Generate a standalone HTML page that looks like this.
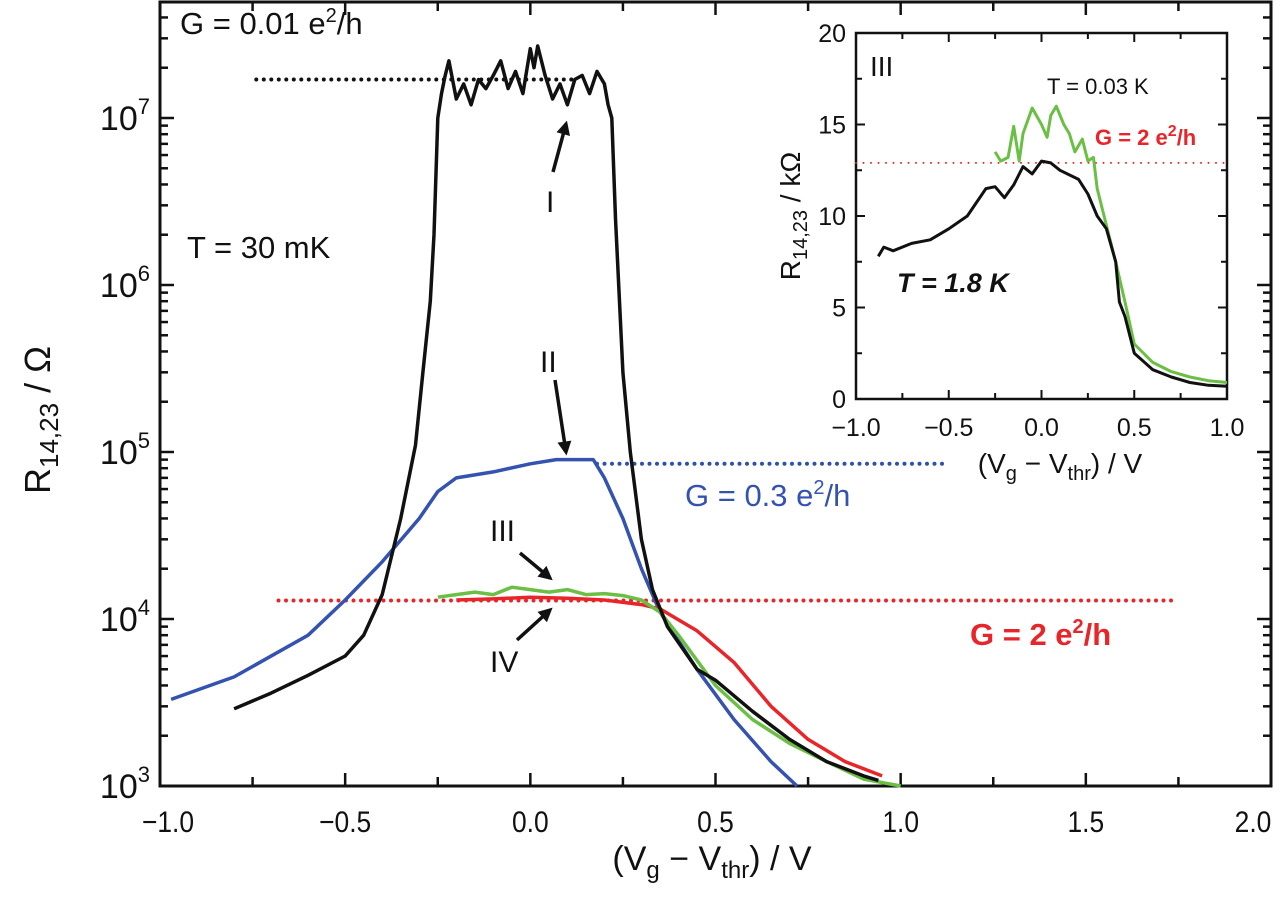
<!DOCTYPE html>
<html><head><meta charset="utf-8"><style>
body{margin:0;background:#fff;width:1280px;height:916px;overflow:hidden}
svg{display:block}
text{font-family:"Liberation Sans",sans-serif}
</style></head><body>
<svg id="chart" width="1280" height="916" viewBox="0 0 1280 916" xmlns="http://www.w3.org/2000/svg"></svg>
<script>
// ---- main chart data (x in V, y in Ohm) ----
const blackX=[-0.8,-0.7,-0.6,-0.5,-0.45,-0.4,-0.35,-0.31,-0.29,-0.27,-0.26,-0.25,-0.24,-0.23,-0.22,-0.2,-0.18,-0.16,-0.14,-0.12,-0.1,-0.08,-0.06,-0.04,-0.02,0,0.01,0.02,0.04,0.06,0.08,0.1,0.12,0.14,0.16,0.18,0.2,0.21,0.22,0.23,0.25,0.27,0.3,0.33,0.37,0.45,0.5,0.6,0.7,0.8,0.9,0.94];
const blackY=[2.9e3,3.6e3,4.6e3,6e3,8e3,1.4e4,4e4,1.1e5,3e5,8e5,2e6,1e7,1.4e7,1.8e7,2.2e7,1.3e7,1.6e7,1.2e7,1.7e7,1.5e7,1.8e7,2.2e7,1.5e7,1.9e7,1.4e7,2.6e7,2.0e7,2.7e7,1.8e7,1.3e7,1.6e7,1.2e7,1.7e7,1.8e7,1.4e7,1.9e7,1.6e7,1.2e7,1.0e7,2.5e6,3e5,1e5,3e4,1.5e4,9e3,5e3,4.3e3,2.8e3,1.9e3,1.4e3,1.15e3,1.08e3];
const blueX=[-0.97,-0.8,-0.6,-0.5,-0.4,-0.3,-0.25,-0.2,-0.1,0,0.07,0.17,0.2,0.25,0.3,0.35,0.45,0.55,0.65,0.72];
const blueY=[3.3e3,4.5e3,8e3,1.3e4,2.2e4,4e4,5.8e4,7e4,7.6e4,8.5e4,9e4,9e4,7e4,4e4,2e4,1.1e4,5e3,2.5e3,1.4e3,1e3];
const greenX=[-0.25,-0.2,-0.15,-0.1,-0.05,0,0.05,0.1,0.15,0.2,0.25,0.3,0.35,0.4,0.5,0.6,0.7,0.8,0.9,1.0];
const greenY=[1.35e4,1.4e4,1.45e4,1.4e4,1.55e4,1.5e4,1.45e4,1.5e4,1.4e4,1.42e4,1.38e4,1.3e4,1.1e4,8e3,4e3,2.5e3,1.8e3,1.4e3,1.1e3,1e3];
const redX=[-0.2,-0.1,0,0.1,0.2,0.3,0.35,0.45,0.55,0.65,0.75,0.85,0.95];
const redY=[1.3e4,1.32e4,1.35e4,1.33e4,1.3e4,1.22e4,1.15e4,8.5e3,5.5e3,3e3,1.9e3,1.4e3,1.15e3];
const xTicks=[-1.0,-0.5,0.0,0.5,1.0,1.5,2.0];
const yDecades=[3,4,5,6,7];
// ---- inset data (x in V, y in kOhm) ----
const inBlackX=[-0.88,-0.85,-0.8,-0.7,-0.6,-0.5,-0.4,-0.3,-0.25,-0.2,-0.15,-0.1,-0.05,0,0.05,0.1,0.2,0.25,0.3,0.35,0.4,0.42,0.45,0.5,0.6,0.7,0.8,0.9,1.0];
const inBlackY=[7.8,8.3,8.1,8.5,8.7,9.3,10.0,11.5,11.6,11.0,11.7,12.7,12.3,13.0,12.9,12.5,12.0,11.2,10.0,9.3,7.5,5.3,4.5,2.5,1.6,1.2,0.9,0.75,0.7];
const inGreenX=[-0.25,-0.22,-0.18,-0.15,-0.12,-0.1,-0.05,0,0.03,0.05,0.08,0.12,0.15,0.18,0.22,0.25,0.28,0.3,0.35,0.4,0.45,0.5,0.6,0.7,0.8,0.9,1.0];
const inGreenY=[13.5,13.0,13.2,14.9,13.0,14.5,15.9,15.0,14.3,15.5,16.0,15.0,14.5,13.5,14.2,13.0,13.2,11.5,9.5,7.5,5.3,3.0,2.0,1.5,1.2,1.0,0.9];
const inXTicks=[-1.0,-0.5,0.0,0.5,1.0];
const inYTicks=[0,5,10,15,20];

const svg=document.getElementById('chart');
const NS='http://www.w3.org/2000/svg';
function mk(tag,attrs,parent){const e=document.createElementNS(NS,tag);for(const k in attrs)e.setAttribute(k,attrs[k]);(parent||svg).appendChild(e);return e;}
const L=160,R=1271,T=2,B=786;
const sx=v=>L+(v+1)*(R-L)/3;
const sy=v=>B-(Math.log10(v)-3)*167;
const iL=856,iR=1227,iT=33,iB=399;
const ix=v=>iL+(v+1)*(iR-iL)/2;
const iy=v=>iB-v*(iB-iT)/20;
function fmt(v){return (v<0?'\u2212':'')+Math.abs(v).toFixed(1);}

let fr=mk('rect',{x:L,y:T,width:R-L,height:B-T,fill:'none',stroke:'#111','stroke-width':3});


for(let v=-1;v<=2.001;v+=0.25){const major=Math.abs(v*2-Math.round(v*2))<1e-6;const len=major?13:9;
 let t=mk('line',{x1:sx(v),x2:sx(v),y1:B,y2:B-len,stroke:'#111','stroke-width':2.5});
 
 let t2=mk('line',{x1:sx(v),x2:sx(v),y1:T,y2:T+len,stroke:'#111','stroke-width':2.5});
 }
xTicks.forEach(v=>{let px=sx(v);if(v<=-1)px+=8;if(v>=2)px-=18;
 let t=mk('text',{x:0,y:0,'font-size':30,'text-anchor':'middle',fill:'#111',transform:'translate('+px+',832) scale(0.88,1)'});t.textContent=fmt(v);
 });
for(let d=3;d<=7;d++){for(let m=1;m<=9;m++){const v=m*Math.pow(10,d);const y=sy(v);if(y<T)continue;const len=m===1?14:8;
 let t=mk('line',{x1:L,x2:L+len,y1:y,y2:y,stroke:'#111','stroke-width':2.5});
 let t2=mk('line',{x1:R,x2:R-len,y1:y,y2:y,stroke:'#111','stroke-width':2.5});}}
yDecades.forEach(d=>{let t=mk('text',{x:150,y:sy(Math.pow(10,d))+12,'font-size':34,'text-anchor':'end',fill:'#111'});
 t.innerHTML='10<tspan dy="-16" font-size="22">'+d+'</tspan>';
 });
let xt=mk('text',{x:712,y:870,'font-size':34,'text-anchor':'middle',fill:'#111'});
xt.innerHTML='(V<tspan dy="8" font-size="24">g</tspan><tspan dy="-8"> \u2212 V</tspan><tspan dy="8" font-size="24">thr</tspan><tspan dy="-8">) / V</tspan>';

let yt=mk('text',{x:0,y:0,'font-size':36,'text-anchor':'middle',fill:'#111',transform:'translate(50,420) rotate(-90)'});
yt.innerHTML='R<tspan dy="8" font-size="26">14,23</tspan><tspan dy="-8"> / \u03A9</tspan>';


function line(xs,ys,fx,fy,color,w,name){const d=xs.map((x,i)=>(i?'L':'M')+fx(x).toFixed(1)+','+fy(ys[i]).toFixed(1)).join('');
 let p=mk('path',{d:d,fill:'none',stroke:color,'stroke-width':w,'stroke-linejoin':'round'});
 return p;}
function dotted(x1,x2,y,color,w,name){let p=mk('line',{x1:x1,x2:x2,y1:y,y2:y,stroke:color,'stroke-width':w,'stroke-dasharray':'0 7.5','stroke-linecap':'round'});
 }

dotted(sx(-0.74),sx(0.12),sy(1.7e7),'#111',4,'g-001-reference-line');
dotted(sx(0.18),sx(1.12),sy(8.5e4),'#2f4fb0',4,'g-03-reference-line');
dotted(sx(-0.68),sx(1.75),sy(1.29e4),'#e8262a',4,'g-2-reference-line');
line(blueX,blueY,sx,sy,'#3452b0',3.5,'blue-series');
line(redX,redY,sx,sy,'#e8262a',3.5,'red-series');
line(greenX,greenY,sx,sy,'#6cbf45',3.5,'green-series');
line(blackX,blackY,sx,sy,'#111',3.5,'black-series');

function txt(x,y,s,size,opts,name){let t=mk('text',Object.assign({x:x,y:y,'font-size':size,fill:'#111'},opts||{}));t.innerHTML=s;
 return t;}
txt(180,34,'G = 0.01 e<tspan dy="-12" font-size="20">2</tspan><tspan dy="12">/h</tspan>',31,{},'g-001-label');
txt(187,258,'T = 30 mK',31,{},'temperature-label');
txt(685,506,'G = 0.3 e<tspan dy="-12" font-size="20">2</tspan><tspan dy="12">/h</tspan>',31,{fill:'#3452b0'},'g-03-label');
txt(970,645,'G = 2 e<tspan dy="-12" font-size="20">2</tspan><tspan dy="12">/h</tspan>',31,{fill:'#e8262a','font-weight':'bold'},'g-2-label');
const serif={'font-family':'Liberation Serif, serif'};
txt(546,212,'I',30,serif,'label-I');
txt(540,372,'II',30,serif,'label-II');
txt(490,541,'III',30,serif,'label-III');
txt(490,672,'IV',30,serif,'label-IV');
let defs=mk('defs',{});
let mkr=mk('marker',{id:'ah',markerWidth:16,markerHeight:14,refX:6,refY:4,orient:'auto',markerUnits:'userSpaceOnUse',viewBox:'0 0 8 8'},defs);
mk('path',{d:'M0,0 L8,4 L0,8 Z',fill:'#111'},mkr);
function arrow(x1,y1,x2,y2,name){let a=mk('line',{x1:x1,y1:y1,x2:x2,y2:y2,stroke:'#111','stroke-width':3.5,'marker-end':'url(#ah)'});
 }
arrow(553,172,566,124,'arrow-I');
arrow(555,380,566,452,'arrow-II');
arrow(520,553,550,578,'arrow-III');
arrow(517,640,550,610,'arrow-IV');

let ib=mk('rect',{x:iL,y:iT,width:iR-iL,height:iB-iT,fill:'#fff',stroke:'#111','stroke-width':2.5});

for(let v=-1;v<=1.001;v+=0.25){const major=Math.abs(v*2-Math.round(v*2))<1e-6;const len=major?9:6;
 let t=mk('line',{x1:ix(v),x2:ix(v),y1:iB,y2:iB-len,stroke:'#111','stroke-width':2});
 let t2=mk('line',{x1:ix(v),x2:ix(v),y1:iT,y2:iT+len,stroke:'#111','stroke-width':2});}
for(let v=0;v<=20;v+=2.5){const len=(v%5===0)?9:6;
 let t=mk('line',{x1:iL,x2:iL+len,y1:iy(v),y2:iy(v),stroke:'#111','stroke-width':2});
 let t2=mk('line',{x1:iR,x2:iR-len,y1:iy(v),y2:iy(v),stroke:'#111','stroke-width':2});}
inXTicks.forEach(v=>{let t=mk('text',{x:ix(v),y:436,'font-size':25,'text-anchor':'middle',fill:'#111'});t.textContent=fmt(v);
 });
inYTicks.forEach(v=>{let t=mk('text',{x:846,y:iy(v)+9,'font-size':25,'text-anchor':'end',fill:'#111'});t.textContent=v;
 });
let ixt=mk('text',{x:1060,y:473,'font-size':28,'text-anchor':'middle',fill:'#111'});
ixt.innerHTML='(V<tspan dy="7" font-size="20">g</tspan><tspan dy="-7"> \u2212 V</tspan><tspan dy="7" font-size="20">thr</tspan><tspan dy="-7">) / V</tspan>';

let iyt=mk('text',{x:0,y:0,'font-size':28,'text-anchor':'middle',fill:'#111',transform:'translate(800,216) rotate(-90)'});
iyt.innerHTML='R<tspan dy="7" font-size="20">14,23</tspan><tspan dy="-7"> / k\u03A9</tspan>';

dotted(iL,iR,iy(12.9),'#e8262a',2,'inset-g-2-reference-line');
line(inGreenX,inGreenY,ix,iy,'#6cbf45',3,'inset-green-series');
line(inBlackX,inBlackY,ix,iy,'#111',3,'inset-black-series');
txt(870,76,'III',28,serif,'inset-label-III');
txt(1047,94,'T = 0.03 K',22,{},'inset-t-003-label');
txt(1095,145,'G = 2 e<tspan dy="-9" font-size="16">2</tspan><tspan dy="9">/h</tspan>',22,{fill:'#e8262a','font-weight':'bold'},'inset-g-2-label');
txt(897,292,'T = 1.8 K',27,{'font-weight':'bold','font-style':'italic'},'inset-t-18-label');
</script>
</body></html>
